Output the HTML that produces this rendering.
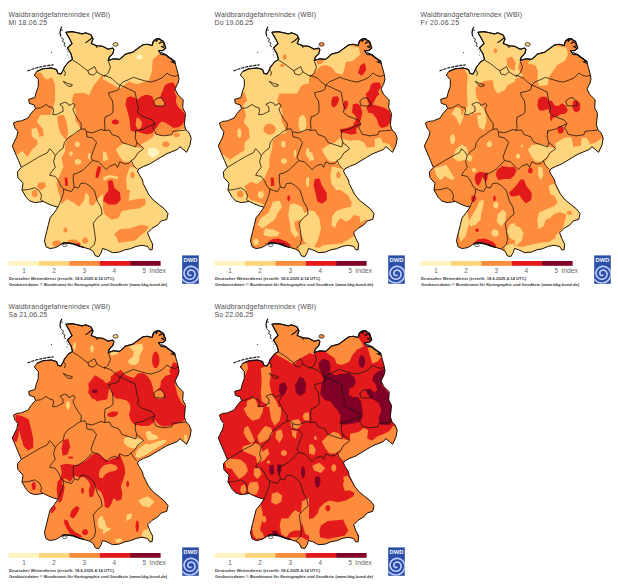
<!DOCTYPE html>
<html><head><meta charset="utf-8"><title>WBI</title>
<style>
html,body{margin:0;padding:0;background:#fff;}
body{width:618px;height:584px;overflow:hidden;position:relative;font-family:"Liberation Sans",sans-serif;}
svg{position:absolute;left:0;top:0;}
text{font-family:"Liberation Sans",sans-serif;}
</style></head><body>
<svg width="618" height="584" viewBox="0 0 618 584">
<defs>
<clipPath id="ger"><polygon points="65.8,32.2 72.0,31.6 77.6,32.8 82.2,33.9 85.6,32.8 91.2,35.0 93.0,39.0 91.2,43.5 96.9,45.8 102.6,46.3 108.2,49.2 112.8,48.0 113.9,49.7 112.8,53.7 109.4,57.0 108.2,60.5 113.9,58.8 119.5,59.4 122.7,56.8 125.0,54.3 132.9,52.1 139.7,47.0 143.1,44.7 147.5,44.3 152.2,45.5 153.3,41.3 157.8,38.5 163.5,41.3 165.8,48.1 162.4,50.6 158.5,50.5 161.2,54.5 165.8,54.8 170.3,58.3 174.8,61.5 176.0,66.2 178.2,74.2 179.0,79.0 178.0,83.0 175.0,89.0 177.6,94.3 183.2,99.9 182.7,107.8 185.5,113.5 184.4,124.8 186.0,130.0 188.9,132.5 191.2,138.1 190.0,144.9 186.6,152.3 183.2,149.4 179.8,146.6 177.6,149.4 171.9,151.7 166.2,154.0 160.6,157.4 154.9,160.8 149.3,164.2 143.6,166.4 139.1,168.7 137.4,171.0 139.1,174.4 142.5,180.0 143.2,183.6 148.4,194.0 153.2,200.0 158.9,204.5 164.6,209.1 168.0,213.6 166.8,219.3 161.2,221.0 157.8,224.9 152.1,228.3 147.6,232.8 149.8,238.5 152.7,244.2 152.1,249.8 149.8,249.8 147.6,246.4 141.9,245.3 136.2,246.4 130.6,248.7 124.9,249.8 119.3,252.1 112.5,252.7 106.8,249.8 102.5,248.5 101.2,252.6 98.9,256.5 95.5,256.0 93.2,251.4 89.8,249.2 84.2,247.5 78.5,245.8 72.8,243.5 67.2,242.9 63.8,242.4 61.5,244.1 55.9,247.5 50.2,248.6 46.2,246.9 44.5,241.2 45.0,238.2 46.7,231.4 48.4,224.6 50.1,217.8 54.6,212.2 58.0,207.1 53.5,206.0 47.8,203.7 43.3,201.4 39.9,202.0 34.8,202.6 29.7,200.9 26.3,197.5 22.0,190.0 23.0,183.2 17.9,177.6 17.4,171.9 21.3,167.4 18.5,160.6 15.1,152.7 12.3,145.9 16.8,136.8 17.9,131.5 15.1,128.2 13.4,123.1 16.8,121.4 21.3,120.9 28.1,118.0 31.0,113.5 35.5,108.4 34.3,105.0 29.3,103.3 28.7,99.3 34.9,97.6 36.0,93.1 38.3,86.3 38.3,79.5 34.3,75.0 36.8,71.4 42.8,68.8 51.4,68.0 56.5,69.5 58.0,73.5 61.0,74.0 63.0,70.5 64.5,67.0 68.5,62.0 72.5,59.4 70.9,53.7 67.5,48.0 72.0,43.5 69.7,39.0"/></clipPath>

<clipPath id="tA"><rect x="0" y="0" width="103" height="115"/></clipPath>
<clipPath id="tB"><rect x="103" y="0" width="103" height="115"/></clipPath>
<clipPath id="tC"><rect x="0" y="115" width="103" height="75"/></clipPath>
<clipPath id="tD"><rect x="103" y="115" width="103" height="75"/></clipPath>
<clipPath id="tE"><rect x="0" y="190" width="103" height="102"/></clipPath>
<clipPath id="tF"><rect x="103" y="190" width="103" height="102"/></clipPath>
<clipPath id="tG"><rect x="0" y="0" width="206" height="292"/></clipPath>
<g id="ov">
<polygon points="65.8,32.2 72.0,31.6 77.6,32.8 82.2,33.9 85.6,32.8 91.2,35.0 93.0,39.0 91.2,43.5 96.9,45.8 102.6,46.3 108.2,49.2 112.8,48.0 113.9,49.7 112.8,53.7 109.4,57.0 108.2,60.5 113.9,58.8 119.5,59.4 122.7,56.8 125.0,54.3 132.9,52.1 139.7,47.0 143.1,44.7 147.5,44.3 152.2,45.5 153.3,41.3 157.8,38.5 163.5,41.3 165.8,48.1 162.4,50.6 158.5,50.5 161.2,54.5 165.8,54.8 170.3,58.3 174.8,61.5 176.0,66.2 178.2,74.2 179.0,79.0 178.0,83.0 175.0,89.0 177.6,94.3 183.2,99.9 182.7,107.8 185.5,113.5 184.4,124.8 186.0,130.0 188.9,132.5 191.2,138.1 190.0,144.9 186.6,152.3 183.2,149.4 179.8,146.6 177.6,149.4 171.9,151.7 166.2,154.0 160.6,157.4 154.9,160.8 149.3,164.2 143.6,166.4 139.1,168.7 137.4,171.0 139.1,174.4 142.5,180.0 143.2,183.6 148.4,194.0 153.2,200.0 158.9,204.5 164.6,209.1 168.0,213.6 166.8,219.3 161.2,221.0 157.8,224.9 152.1,228.3 147.6,232.8 149.8,238.5 152.7,244.2 152.1,249.8 149.8,249.8 147.6,246.4 141.9,245.3 136.2,246.4 130.6,248.7 124.9,249.8 119.3,252.1 112.5,252.7 106.8,249.8 102.5,248.5 101.2,252.6 98.9,256.5 95.5,256.0 93.2,251.4 89.8,249.2 84.2,247.5 78.5,245.8 72.8,243.5 67.2,242.9 63.8,242.4 61.5,244.1 55.9,247.5 50.2,248.6 46.2,246.9 44.5,241.2 45.0,238.2 46.7,231.4 48.4,224.6 50.1,217.8 54.6,212.2 58.0,207.1 53.5,206.0 47.8,203.7 43.3,201.4 39.9,202.0 34.8,202.6 29.7,200.9 26.3,197.5 22.0,190.0 23.0,183.2 17.9,177.6 17.4,171.9 21.3,167.4 18.5,160.6 15.1,152.7 12.3,145.9 16.8,136.8 17.9,131.5 15.1,128.2 13.4,123.1 16.8,121.4 21.3,120.9 28.1,118.0 31.0,113.5 35.5,108.4 34.3,105.0 29.3,103.3 28.7,99.3 34.9,97.6 36.0,93.1 38.3,86.3 38.3,79.5 34.3,75.0 36.8,71.4 42.8,68.8 51.4,68.0 56.5,69.5 58.0,73.5 61.0,74.0 63.0,70.5 64.5,67.0 68.5,62.0 72.5,59.4 70.9,53.7 67.5,48.0 72.0,43.5 69.7,39.0" fill="none" stroke="#1a1208" stroke-width="1.0" stroke-linejoin="round"/>
<polyline points="65.8,32.2 72.0,31.6 77.6,32.8 82.2,33.9 85.6,32.8 91.2,35.0 93.0,39.0 91.2,43.5 96.9,45.8 102.6,46.3 108.2,49.2 112.8,48.0 113.9,49.7 112.8,53.7 109.4,57.0 108.2,60.5 113.9,58.8 119.5,59.4 122.7,56.8 125.0,54.3 132.9,52.1 139.7,47.0 143.1,44.7 147.5,44.3 152.2,45.5 153.3,41.3 157.8,38.5 163.5,41.3 165.8,48.1 162.4,50.6 158.5,50.5 161.2,54.5 165.8,54.8 170.3,58.3 174.8,61.5" fill="none" stroke="#111" stroke-width="1.1" stroke-linejoin="round"/>
<polyline points="36.8,71.4 42.8,68.8 51.4,68.0 56.5,69.5 58.0,73.5 61.0,74.0 63.0,70.5 64.5,67.0 68.5,62.0 72.5,59.4 70.9,53.7 67.5,48.0 72.0,43.5 69.7,39.0 65.8,32.2" fill="none" stroke="#111" stroke-width="1.1" stroke-linejoin="round"/>
<polyline points="72.5,60.0 78.8,63.9 84.4,68.4 87.8,70.7" fill="none" stroke="#1f150c" stroke-width="0.8" stroke-linejoin="round"/>
<polyline points="87.8,70.7 94.6,66.7 96.9,71.8 93.5,75.2 89.0,74.0 87.8,70.7" fill="none" stroke="#1f150c" stroke-width="0.8" stroke-linejoin="round"/>
<polyline points="96.9,71.8 101.0,74.5 104.8,76.4" fill="none" stroke="#1f150c" stroke-width="0.8" stroke-linejoin="round"/>
<polyline points="108.2,60.5 110.5,67.3 108.2,73.0 104.8,76.4 104.0,75.0" fill="none" stroke="#1f150c" stroke-width="0.8" stroke-linejoin="round"/>
<polyline points="104.0,75.0 111.9,78.4 116.4,82.9 119.8,85.2" fill="none" stroke="#1f150c" stroke-width="0.8" stroke-linejoin="round"/>
<polyline points="119.8,85.2 123.2,81.8 128.9,79.5 133.4,77.3 137.5,78.7 145.4,81.0 151.0,82.1 157.8,79.8 162.4,77.6 166.9,73.0 170.3,75.3 174.8,76.4 178.0,75.3" fill="none" stroke="#1f150c" stroke-width="0.8" stroke-linejoin="round"/>
<polyline points="119.8,85.2 118.7,89.7 114.2,91.4 108.5,92.6 109.6,96.5 112.5,101.0 113.0,106.7 113.0,112.4 109.6,115.2 105.1,116.9 104.5,122.6 105.1,128.2 104.0,130.5" fill="none" stroke="#1f150c" stroke-width="0.8" stroke-linejoin="round"/>
<polyline points="119.8,85.2 124.4,86.9 130.0,89.7 135.1,92.0 136.2,97.7 136.8,102.2 138.5,107.8 137.4,112.4 141.3,115.8 147.0,118.0 152.6,120.3 154.9,123.7" fill="none" stroke="#1f150c" stroke-width="0.8" stroke-linejoin="round"/>
<polyline points="153.8,101.0 157.2,98.2 161.1,97.7 164.5,102.2 165.1,105.6 160.6,106.1 154.9,105.6 153.8,101.0" fill="none" stroke="#1f150c" stroke-width="0.8" stroke-linejoin="round"/>
<polyline points="154.9,123.7 152.6,127.9 154.9,131.3 156.0,134.2 164.0,135.9 171.9,134.7 173.0,131.3 178.7,130.8 185.5,130.2" fill="none" stroke="#1f150c" stroke-width="0.8" stroke-linejoin="round"/>
<polyline points="154.9,123.7 147.0,127.1 143.6,129.1 135.7,130.8" fill="none" stroke="#1f150c" stroke-width="0.8" stroke-linejoin="round"/>
<polyline points="135.7,130.8 135.1,137.0 136.8,142.7 141.3,146.0 143.6,148.9 137.9,152.8 134.5,158.5 131.2,160.6 133.4,165.3 136.8,169.0" fill="none" stroke="#1f150c" stroke-width="0.8" stroke-linejoin="round"/>
<polyline points="104.0,130.5 109.6,130.0 111.9,134.5 118.7,136.8 122.1,142.5 128.9,144.7 135.7,147.0 136.8,142.7" fill="none" stroke="#1f150c" stroke-width="0.8" stroke-linejoin="round"/>
<polyline points="135.7,133.4 135.7,130.8" fill="none" stroke="#1f150c" stroke-width="0.8" stroke-linejoin="round"/>
<polyline points="35.5,108.4 40.6,107.8 46.2,104.4 49.0,106.7 53.0,107.8 53.6,111.2 52.5,114.6 56.4,114.6 59.8,112.9 63.2,111.2 62.7,106.7 59.8,104.4 64.4,102.2 67.8,103.3 68.9,105.6 73.4,103.3 75.1,105.6 72.9,109.0 74.6,113.5 77.9,119.2 81.3,123.7 80.8,129.4" fill="none" stroke="#1f150c" stroke-width="0.8" stroke-linejoin="round"/>
<polyline points="80.8,129.4 85.0,128.8 86.4,131.6 92.0,133.0 98.3,130.5 101.7,129.4 104.0,130.5" fill="none" stroke="#1f150c" stroke-width="0.8" stroke-linejoin="round"/>
<polyline points="63.2,81.2 67.8,83.5 72.3,84.6 71.7,86.3 68.3,86.3 65.5,84.1 63.2,81.2" fill="none" stroke="#1f150c" stroke-width="0.8" stroke-linejoin="round"/>
<polyline points="64.0,70.0 65.5,73.0 64.5,76.0" fill="none" stroke="#1f150c" stroke-width="0.8" stroke-linejoin="round"/>
<polyline points="80.8,129.4 77.0,131.5 73.4,134.5 67.8,137.9 64.4,142.5 63.2,148.1 58.7,151.5 55.3,155.5" fill="none" stroke="#1f150c" stroke-width="0.8" stroke-linejoin="round"/>
<polyline points="55.3,155.5 52.5,151.5 49.6,148.7 47.4,152.7 40.6,156.0 32.7,160.6 27.0,164.0 21.3,167.4" fill="none" stroke="#1f150c" stroke-width="0.8" stroke-linejoin="round"/>
<polyline points="55.3,155.5 53.6,161.7 55.3,167.4 51.9,171.3 49.6,175.3 55.3,176.4 58.7,181.0 61.0,186.6 63.6,188.7" fill="none" stroke="#1f150c" stroke-width="0.8" stroke-linejoin="round"/>
<polyline points="86.4,131.6 87.0,136.8 92.7,137.9 96.6,142.5 93.8,149.3 91.0,157.2 92.7,160.6" fill="none" stroke="#1f150c" stroke-width="0.8" stroke-linejoin="round"/>
<polyline points="92.7,160.6 88.1,165.1 83.6,169.6 77.9,173.0 73.4,174.2 73.2,180.2 74.3,187.0" fill="none" stroke="#1f150c" stroke-width="0.8" stroke-linejoin="round"/>
<polyline points="74.3,187.0 71.5,191.5 67.0,190.4 63.6,188.7" fill="none" stroke="#1f150c" stroke-width="0.8" stroke-linejoin="round"/>
<polyline points="63.6,188.7 63.6,192.7 61.3,199.4 58.0,207.1" fill="none" stroke="#1f150c" stroke-width="0.8" stroke-linejoin="round"/>
<polyline points="21.8,190.1 28.6,189.5 34.8,187.8 39.3,190.7 41.6,195.8 40.5,199.7 43.3,201.4" fill="none" stroke="#1f150c" stroke-width="0.8" stroke-linejoin="round"/>
<polyline points="92.7,160.6 98.3,161.7 102.8,166.2 106.2,169.6 109.6,166.2 115.3,164.0 117.6,167.4 119.8,161.7 124.4,164.0 128.9,163.4 131.2,160.6" fill="none" stroke="#1f150c" stroke-width="0.8" stroke-linejoin="round"/>
<polyline points="74.3,187.0 78.3,188.1 80.6,183.6 85.1,183.0 89.6,185.9 94.2,190.4 95.9,196.0 97.6,201.7 101.0,207.4 102.1,214.2 97.6,217.6 93.2,223.1 94.4,231.0 95.5,239.0 94.4,244.6 89.8,248.6" fill="none" stroke="#1f150c" stroke-width="0.8" stroke-linejoin="round"/>
<polyline points="62,26.8 60.5,29.5 60,33 60.8,36.5" fill="none" stroke="#111" stroke-width="1.2"/>
<polyline points="60.5,29.8 63,30.3" fill="none" stroke="#111" stroke-width="0.8"/>
<polyline points="61,37.5 63.5,39 62.5,41.5 65,43 64,45.5 66,47" fill="none" stroke="#222" stroke-width="0.9"/>
<polyline points="66,49 68,52 67,55 69,57.5" fill="none" stroke="#333" stroke-width="0.6" stroke-dasharray="1.5 1.5"/>
<polyline points="27.5,71 31,69.6 36,68 42,66.6 47.5,65.6 53.5,64.8" fill="none" stroke="#111" stroke-width="1.2" stroke-dasharray="3.2 0.9"/>
<circle cx="51.5" cy="52.5" r="0.6" fill="#333"/>
<ellipse cx="115.6" cy="44.4" rx="2.6" ry="1.8" fill="none" stroke="#222" stroke-width="0.8"/>
<polyline points="85.4,42.9 88.5,40.8 92.2,37.8" fill="none" stroke="#111" stroke-width="1.1"/>
<polyline points="94.8,44.6 96,46 97.3,48" fill="none" stroke="#111" stroke-width="1.0"/>
<polyline points="61.5,244.3 64,242.8 67.2,243 72.8,243.7 78.5,245.9 84.2,247.6" fill="none" stroke="#111" stroke-width="1.5"/>
<ellipse cx="64.8" cy="245.3" rx="2.3" ry="1.3" fill="#fff" stroke="#111" stroke-width="0.6"/>
<polyline points="152.5,44 154,40 157,38.5 156,42 159.5,38 161.5,41 159,43.5 163,42 164.5,46 161,46.5 165.5,48.5 163,50.8" fill="none" stroke="#111" stroke-width="1.0"/>
<polyline points="161,52.5 165.5,54.5 168,57 171.5,59 174.5,61.5 172,62 175.5,63.5" fill="none" stroke="#111" stroke-width="1.3"/>
<rect x="8.5" y="261" width="30.5" height="4.8" fill="#fff3c0"/>
<text x="24.0" y="272.8" font-size="6.4" fill="#666" text-anchor="middle">1</text>
<rect x="38.9" y="261" width="30.5" height="4.8" fill="#fed57c"/>
<text x="54.1" y="272.8" font-size="6.4" fill="#666" text-anchor="middle">2</text>
<rect x="69.3" y="261" width="30.5" height="4.8" fill="#fd8d3c"/>
<text x="84.2" y="272.8" font-size="6.4" fill="#666" text-anchor="middle">3</text>
<rect x="99.7" y="261" width="30.5" height="4.8" fill="#e31a1c"/>
<text x="114.3" y="272.8" font-size="6.4" fill="#666" text-anchor="middle">4</text>
<rect x="130.1" y="261" width="30.5" height="4.8" fill="#800026"/>
<text x="144.4" y="272.8" font-size="6.4" fill="#666" text-anchor="middle">5</text>
<text x="149.3" y="272.8" font-size="6.4" fill="#666" textLength="16.5" lengthAdjust="spacingAndGlyphs">Index</text>
<text x="9.1" y="279.5" font-size="4.4" font-weight="bold" fill="#3a3a3a" textLength="105" lengthAdjust="spacingAndGlyphs">Deutscher Wetterdienst (erstellt: 18.6.2025 4:14 UTC)</text>
<text x="9.1" y="285.5" font-size="4.4" font-weight="bold" fill="#3a3a3a" textLength="158" lengthAdjust="spacingAndGlyphs">Geobasisdaten © Bundesamt für Kartographie und Geodäsie (www.bkg.bund.de)</text>
<text x="8.6" y="17" font-size="6.9" fill="#4d4d4d" textLength="101.5" lengthAdjust="spacing">Waldbrandgefahrenindex (WBI)</text>
<g transform="translate(182.2,255.4)"><clipPath id="lg"><rect x="0" y="0" width="16.6" height="28.4"/></clipPath><rect x="0" y="0" width="16.6" height="28.4" fill="#2b4ea6"/><text x="8.3" y="6.6" font-size="6.2" font-weight="bold" fill="#f4f6ff" text-anchor="middle" textLength="14" lengthAdjust="spacingAndGlyphs">DWD</text><path d="M8.76,19.73 L8.55,19.87 L8.31,19.98 L8.04,20.06 L7.75,20.09 L7.44,20.06 L7.13,19.99 L6.82,19.85 L6.53,19.67 L6.26,19.42 L6.02,19.13 L5.83,18.79 L5.70,18.41 L5.62,18.00 L5.61,17.57 L5.67,17.13 L5.80,16.69 L6.01,16.26 L6.29,15.87 L6.63,15.51 L7.05,15.20 L7.52,14.95 L8.03,14.78 L8.58,14.69 L9.15,14.68 L9.73,14.77 L10.30,14.95 L10.84,15.23 L11.35,15.59 L11.81,16.04 L12.20,16.56 L12.51,17.16 L12.72,17.80 L12.84,18.49 L12.85,19.20 L12.74,19.92 L12.52,20.62 L12.19,21.30 L11.75,21.92 L11.21,22.49 L10.57,22.96 L9.86,23.34 L9.08,23.62 L8.26,23.77 L7.41,23.79 L6.55,23.67 L5.71,23.43 L4.90,23.04 L4.15,22.53 L3.48,21.91 L2.90,21.17 L2.44,20.34 L2.11,19.44 L1.91,18.48 L1.87,17.49 L1.98,16.49 L2.25,15.50 L2.67,14.56 L3.24,13.68 L3.95,12.89 L4.78,12.21 L5.72,11.66 L6.75,11.25 L7.84,11.00 L8.97,10.93 L10.11,11.03 L11.24,11.31 L12.32,11.76 L13.34,12.38 L14.25,13.16 L15.05,14.08 L15.70,15.13 L16.18,16.28 L16.49,17.50 L16.61,18.76 L16.53,20.05 L16.25,21.32 L15.78,22.55 L15.11,23.70 L14.27,24.75 L13.26,25.66 L12.12,26.42 L10.86,26.99 L9.51,27.37 L8.11,27.54 L6.68,27.50 L5.26,27.23 L3.89,26.74 L2.59,26.04 L1.41,25.14 L0.37,24.06" fill="none" stroke="#c3d0ff" stroke-width="1.6" stroke-linecap="round" clip-path="url(#lg)"/></g>
</g></defs>
<g transform="translate(0,0)">
<g clip-path="url(#ger)"><rect x="0" y="0" width="206" height="292" fill="#fed57c"/>
<g clip-path="url(#tA)">
<polygon points="35.1,72.2 41.1,72.7 45.9,79.6 52.2,77.4 55.1,85.1 55.1,100.5 51.4,112.5 48.8,120.0 17.1,120.0 17.1,100.5 25.7,88.5 25.7,71.4" fill="#fd8d3c"/>
<polygon points="106.2,69.7 93.3,85.9 89.0,95.3 83.9,92.8 73.6,93.6 71.9,100.5 75.3,109.0 77.9,122.7 106.2,122.7" fill="#fd8d3c"/>
</g>
<g clip-path="url(#tB)">
<polygon points="101.3,78.2 113.3,85.1 120.1,88.5 128.7,81.6 137.2,84.2 149.2,79.9 151.8,71.4 152.7,59.4 159.5,53.4 168.9,56.8 174.9,62.8 181.8,71.4 192.0,122.7 101.3,122.7" fill="#fd8d3c"/>
</g>
<g clip-path="url(#tC)">
<polygon points="30.0,115.1 41.1,113.4 36.8,122.0 42.8,128.8 43.7,135.7 36.8,137.4 37.7,144.2 31.7,150.2 27.4,157.1 22.3,151.1 17.1,154.5 5.1,146.0 5.1,132.3 8.6,122.0" fill="#fd8d3c"/>
<polygon points="31.7,128.8 36.8,128.0 39.4,135.7 36.0,140.0 31.7,135.7" fill="#fed57c"/>
<polygon points="57.4,116.0 63.7,114.3 67.1,123.7 68.2,134.0 65.9,140.0 60.3,133.1 57.9,124.6" fill="#fd8d3c"/>
<polygon points="75.3,106.6 106.2,106.6 106.2,212.7 65.1,212.7 63.4,195.6 58.2,190.5 56.5,183.6 59.9,175.1 63.4,166.5 61.6,157.9 65.1,151.1 65.1,144.2 67.6,137.4 75.3,134.0 80.5,128.8 75.3,120.3" fill="#fd8d3c"/>
<polygon points="79.8,144.2 79.3,145.9 78.1,146.9 76.7,146.9 75.5,145.9 75.0,144.2 75.5,142.6 76.7,141.6 78.1,141.6 79.3,142.6" fill="#fed57c"/>
<polygon points="72.8,153.7 72.4,155.2 71.6,156.1 70.5,156.1 69.7,155.2 69.3,153.7 69.7,152.2 70.5,151.2 71.6,151.2 72.4,152.2" fill="#fed57c"/>
<polygon points="81.3,161.7 80.7,163.4 79.0,164.5 76.9,164.5 75.1,163.4 74.5,161.7 75.1,160.0 76.9,158.9 79.0,158.9 80.7,160.0" fill="#fed57c"/>
<polygon points="90.8,156.2 90.5,158.2 89.8,159.5 89.0,159.5 88.3,158.2 88.0,156.2 88.3,154.2 89.0,153.0 89.8,153.0 90.5,154.2" fill="#fed57c"/>
<polygon points="73.6,193.9 83.9,190.5 93.3,193.9 93.3,212.7 68.5,212.7 65.1,202.5" fill="#fed57c"/>
<polygon points="64.7,177.6 67.1,177.6 68.2,185.3 65.1,186.2" fill="#e31a1c"/>
<polygon points="31.7,190.5 36.8,189.6 39.4,193.9 34.2,199.0 30.8,195.6" fill="#fd8d3c"/>
<polygon points="38.5,182.8 44.5,181.9 46.2,186.2 41.1,190.5 36.8,187.1" fill="#fd8d3c"/>
</g>
<g clip-path="url(#tD)">
<polygon points="101.3,108.3 209.2,108.3 209.2,212.7 101.3,212.7" fill="#fd8d3c"/>
<polygon points="119.1,122.0 118.4,123.5 116.5,124.4 114.2,124.4 112.3,123.5 111.6,122.0 112.3,120.5 114.2,119.5 116.5,119.5 118.4,120.5" fill="#e31a1c"/>
<polygon points="154.4,134.0 159.5,135.7 168.1,135.7 174.9,132.3 183.5,128.8 192.0,130.5 195.5,140.8 188.6,154.5 182.6,150.2 176.6,154.5 168.1,157.9 159.5,161.4 152.7,166.5 144.1,168.2 136.4,168.2 130.4,163.1 135.5,156.2 143.2,148.5 139.8,145.1 145.8,141.7 152.7,137.4" fill="#fed57c"/>
<polygon points="169.6,144.2 168.9,146.0 167.0,147.0 164.7,147.0 162.8,146.0 162.1,144.2 162.8,142.5 164.7,141.5 167.0,141.5 168.9,142.5" fill="#fd8d3c"/>
<polygon points="180.1,134.8 179.4,136.2 177.7,137.1 175.6,137.1 173.9,136.2 173.2,134.8 173.9,133.4 175.6,132.5 177.7,132.5 179.4,133.4" fill="#fd8d3c"/>
<polygon points="147.9,149.0 154.4,147.3 159.5,150.8 158.1,154.9 152.7,157.9 148.4,154.9" fill="#fff3c0"/>
<polygon points="115.8,149.4 121.8,144.2 128.7,143.4 135.5,146.8 143.2,148.5 135.5,156.2 130.4,161.4 123.5,161.4 119.3,156.2" fill="#fed57c"/>
<polygon points="102.1,151.1 106.4,152.8 108.1,159.7 102.1,161.4" fill="#fed57c"/>
<polygon points="130.4,166.5 136.4,168.2 144.1,175.1 147.5,183.6 152.7,193.9 161.2,204.2 167.2,212.7 128.7,212.7 130.4,200.8 125.3,195.6 127.0,188.8 126.1,178.5 128.7,169.9" fill="#fed57c"/>
<polygon points="134.7,175.1 134.3,177.1 133.1,178.3 131.8,178.3 130.7,177.1 130.2,175.1 130.7,173.1 131.8,171.8 133.1,171.8 134.3,173.1" fill="#fd8d3c"/>
<polygon points="103.0,177.6 109.8,175.1 118.4,176.8 117.6,179.3 109.8,177.6 103.9,181.1" fill="#fed57c"/>
</g>
<g clip-path="url(#tE)">
<polygon points="56.5,168.3 106.2,168.3 106.2,214.5 56.5,214.5" fill="#fd8d3c"/>
<polygon points="-1.7,168.3 56.5,168.3 56.5,187.1 59.9,195.7 61.6,204.2 66.8,199.1 73.6,202.5 78.8,206.8 83.9,200.8 85.6,192.3 89.0,195.7 89.0,204.2 93.3,206.0 97.6,199.1 106.2,190.5 106.2,272.7 -1.7,272.7" fill="#fed57c"/>
<polygon points="65.6,176.8 68.0,176.8 68.8,186.3 65.9,186.3" fill="#e31a1c"/>
<polygon points="37.8,193.5 37.3,195.7 35.7,197.0 33.8,197.0 32.3,195.7 31.7,193.5 32.3,191.2 33.8,189.9 35.7,189.9 37.3,191.2" fill="#fd8d3c"/>
<polygon points="46.1,185.4 45.3,187.4 43.5,188.7 41.1,188.7 39.2,187.4 38.5,185.4 39.2,183.4 41.1,182.2 43.5,182.2 45.3,183.4" fill="#fd8d3c"/>
<polygon points="61.5,243.6 60.6,245.6 58.3,246.9 55.4,246.9 53.1,245.6 52.2,243.6 53.1,241.6 55.4,240.4 58.3,240.4 60.6,241.6" fill="#fd8d3c"/>
<polygon points="67.5,229.9 67.1,231.4 66.0,232.4 64.8,232.4 63.7,231.4 63.4,229.9 63.7,228.4 64.8,227.5 66.0,227.5 67.1,228.4" fill="#fd8d3c"/>
<polygon points="88.2,240.5 87.6,242.4 86.1,243.5 84.2,243.5 82.6,242.4 82.0,240.5 82.6,238.7 84.2,237.6 86.1,237.6 87.6,238.7" fill="#fd8d3c"/>
<polygon points="67.6,240.2 75.3,239.3 80.5,242.8 80.5,246.2 73.6,245.3 67.6,243.6" fill="#fd8d3c"/>
<polygon points="80.5,244.5 80.0,245.3 78.7,245.8 77.1,245.8 75.8,245.3 75.3,244.5 75.8,243.7 77.1,243.2 78.7,243.2 80.0,243.7" fill="#e31a1c"/>
</g>
<g clip-path="url(#tF)">
<polygon points="101.3,168.3 209.2,168.3 209.2,272.7 101.3,272.7" fill="#fed57c"/>
<polygon points="101.3,168.3 125.3,168.3 126.1,180.3 130.4,187.1 128.7,200.8 137.2,199.1 145.0,198.3 145.8,204.2 139.0,208.5 130.4,209.4 121.8,211.1 118.4,217.9 111.6,219.7 104.7,214.5 101.3,204.2" fill="#fd8d3c"/>
<polygon points="114.1,234.2 120.1,229.1 130.4,228.2 140.7,224.8 149.2,226.5 145.8,231.6 139.8,235.9 135.5,240.2 125.3,241.9 118.4,242.8 116.7,237.6" fill="#fd8d3c"/>
<polygon points="134.7,173.4 134.3,175.4 133.1,176.7 131.8,176.7 130.7,175.4 130.2,173.4 130.7,171.4 131.8,170.2 133.1,170.2 134.3,171.4" fill="#fd8d3c"/>
</g>
<g clip-path="url(#tG)">
<polygon points="126.7,98.1 130.5,96.2 135.7,98.1 137.7,99.4 140.9,96.8 144.8,94.9 148.7,94.9 152.5,96.8 153.8,100.7 157.7,98.1 160.3,96.8 162.2,91.7 164.8,85.2 168.1,83.2 173.3,82.6 175.8,86.5 174.5,91.7 176.5,96.8 175.8,102.0 178.4,107.2 182.3,110.4 185.6,115.0 184.9,120.1 182.3,124.7 178.4,127.2 173.3,127.9 169.4,125.3 165.5,122.7 161.6,121.4 159.0,124.0 156.4,127.9 153.8,130.5 152.5,133.1 147.4,134.4 140.9,133.1 136.4,131.1 134.4,131.8 130.5,130.5 129.9,124.0 129.2,117.5 127.3,111.1 125.4,104.6" fill="#e31a1c"/>
<polygon points="153.8,100.7 157.7,98.1 161.6,98.1 164.8,102.7 164.2,105.9 159.0,105.9 154.5,105.2" fill="#fd8d3c"/>
<polygon points="136.4,117.5 139.6,118.8 142.2,122.7 140.9,127.9 137.7,129.8 135.7,125.3" fill="#fd8d3c"/>
<polygon points="142.7,56.9 142.1,58.4 140.4,59.4 138.4,59.4 136.7,58.4 136.1,56.9 136.7,55.4 138.4,54.4 140.4,54.4 142.1,55.4" fill="#fff3c0"/>
<polygon points="107.7,181.1 112.4,180.1 114.3,187.7 119.9,192.4 120.8,199.9 116.1,204.6 108.6,204.6 103.0,200.8 104.8,195.2 108.6,190.5" fill="#e31a1c"/>
<polygon points="97.9,166.0 101.1,166.9 100.1,172.6 97.9,178.2 95.4,177.3 96.4,170.7" fill="#e31a1c"/>
</g>
</g>
<ellipse cx="115.6" cy="44.4" rx="2.6" ry="1.8" fill="#fed57c"/>
<use href="#ov"/>
<text x="8.6" y="24.7" font-size="6.9" fill="#4d4d4d" textLength="38.5" lengthAdjust="spacing">Mi 18.06.25</text>
</g>
<g transform="translate(206,0)">
<g clip-path="url(#ger)"><rect x="0" y="0" width="206" height="292" fill="#fed57c"/>
<g clip-path="url(#tA)">
<polygon points="106.2,82.5 95.9,85.1 90.8,93.6 83.9,93.6 73.6,93.6 71.1,100.5 75.3,109.0 78.8,122.7 106.2,122.7" fill="#fd8d3c"/>
<polygon points="25.7,98.8 38.5,91.9 41.1,100.5 36.8,105.6 39.4,112.5 39.4,122.7 25.7,122.7" fill="#fd8d3c"/>
<polygon points="80.8,57.2 80.4,58.8 79.4,59.8 78.1,59.8 77.1,58.8 76.7,57.2 77.1,55.5 78.1,54.6 79.4,54.6 80.4,55.5" fill="#fd8d3c"/>
<polygon points="78.4,65.4 78.0,66.4 76.9,67.0 75.5,67.0 74.4,66.4 74.0,65.4 74.4,64.4 75.5,63.7 76.9,63.7 78.0,64.4" fill="#fd8d3c"/>
</g>
<g clip-path="url(#tB)">
<polygon points="101.3,18.3 209.2,18.3 209.2,122.7 101.3,122.7" fill="#fd8d3c"/>
<polygon points="101.3,45.7 111.6,45.7 110.7,50.0 115.0,52.5 111.6,59.4 110.7,64.5 115.8,63.7 120.1,58.5 125.3,52.5 133.8,50.0 142.4,45.7 152.7,47.4 154.4,54.2 146.7,61.1 139.8,62.0 138.1,69.7 136.4,74.8 130.4,73.1 125.3,67.1 120.1,64.9 114.1,66.2 108.1,73.1 101.3,79.1" fill="#fed57c"/>
<polygon points="154.4,65.4 158.7,62.8 160.4,69.7 156.1,75.7 151.8,73.1" fill="#e31a1c"/>
</g>
<g clip-path="url(#tC)">
<polygon points="29.1,113.4 41.1,112.6 37.7,122.0 42.8,128.8 43.7,137.4 38.5,142.5 38.5,150.2 29.1,156.2 24.0,159.7 17.1,154.5 5.1,146.0 5.1,132.3 8.6,122.0" fill="#fd8d3c"/>
<polygon points="35.4,133.1 35.1,135.9 34.0,137.7 32.8,137.7 31.7,135.9 31.3,133.1 31.7,130.3 32.8,128.6 34.0,128.6 35.1,130.3" fill="#fed57c"/>
<polygon points="69.9,129.2 68.7,132.5 65.6,134.6 61.8,134.6 58.7,132.5 57.5,129.2 58.7,125.9 61.8,123.8 65.6,123.8 68.7,125.9" fill="#fd8d3c"/>
<polygon points="75.3,106.6 106.2,106.6 106.2,212.7 59.9,212.7 59.1,202.5 56.5,195.6 53.1,190.5 56.5,181.9 59.1,176.8 63.4,166.5 63.4,157.9 65.9,149.4 66.8,140.8 71.9,135.7 80.5,132.3 75.3,120.3" fill="#fd8d3c"/>
<polygon points="38.5,186.2 44.5,181.9 51.4,184.0 57.4,178.5 59.9,185.3 58.2,195.6 51.4,192.2 44.5,190.5 40.2,190.5" fill="#fd8d3c"/>
<polygon points="37.7,193.9 37.0,196.1 35.3,197.5 33.2,197.5 31.5,196.1 30.8,193.9 31.5,191.7 33.2,190.3 35.3,190.3 37.0,191.7" fill="#fd8d3c"/>
<polygon points="79.6,144.2 79.2,146.3 78.1,147.5 76.7,147.5 75.6,146.3 75.2,144.2 75.6,142.2 76.7,141.0 78.1,141.0 79.2,142.2" fill="#fed57c"/>
<polygon points="81.0,161.0 80.4,162.7 78.9,163.8 77.0,163.8 75.4,162.7 74.8,161.0 75.4,159.3 77.0,158.3 78.9,158.3 80.4,159.3" fill="#fed57c"/>
<polygon points="90.4,153.7 90.1,155.9 89.5,157.2 88.6,157.2 87.9,155.9 87.7,153.7 87.9,151.5 88.6,150.1 89.5,150.1 90.1,151.5" fill="#fed57c"/>
<polygon points="100.5,123.4 99.7,128.4 97.7,131.5 95.1,131.5 93.1,128.4 92.3,123.4 93.1,118.3 95.1,115.2 97.7,115.2 99.7,118.3" fill="#fed57c"/>
<polygon points="105.8,152.8 105.2,155.8 103.7,157.7 101.8,157.7 100.2,155.8 99.7,152.8 100.2,149.8 101.8,147.9 103.7,147.9 105.2,149.8" fill="#fed57c"/>
<polygon points="105.8,181.9 105.2,184.9 103.7,186.8 101.8,186.8 100.2,184.9 99.7,181.9 100.2,178.9 101.8,177.0 103.7,177.0 105.2,178.9" fill="#fed57c"/>
<polygon points="66.8,202.5 73.6,199.0 75.3,205.9 71.9,212.7 66.8,212.7" fill="#fed57c"/>
<polygon points="64.7,177.6 67.6,177.6 68.5,185.3 65.1,186.2" fill="#e31a1c"/>
<polygon points="84.1,198.7 83.8,200.2 83.1,201.1 82.3,201.1 81.6,200.2 81.3,198.7 81.6,197.2 82.3,196.3 83.1,196.3 83.8,197.2" fill="#e31a1c"/>
</g>
<g clip-path="url(#tD)">
<polygon points="101.3,108.3 209.2,108.3 209.2,212.7 101.3,212.7" fill="#fd8d3c"/>
<polygon points="152.7,140.0 157.8,142.5 161.2,147.7 168.9,146.8 168.9,139.1 174.9,137.4 176.6,142.5 183.5,144.2 188.6,154.5 182.6,150.2 176.6,154.5 168.1,157.9 159.5,161.4 152.7,166.5 144.1,168.2 136.4,169.1 130.4,163.1 134.7,156.2 139.8,152.8 144.1,148.5 138.1,144.2 136.4,139.1 144.1,140.8" fill="#fed57c"/>
<polygon points="115.8,149.4 121.8,145.1 128.7,142.5 134.7,137.4 137.2,144.2 144.1,148.5 135.5,156.2 130.4,161.4 123.5,161.4 119.3,156.2" fill="#fed57c"/>
<polygon points="102.1,151.1 106.4,152.8 108.1,159.7 102.1,161.4" fill="#fed57c"/>
<polygon points="126.1,166.5 136.4,169.1 144.1,175.1 147.5,183.6 152.7,193.9 161.2,204.2 167.2,212.7 147.5,212.7 145.8,205.9 137.2,197.3 130.4,190.5 125.3,183.6 124.4,175.1" fill="#fed57c"/>
<polygon points="134.7,175.1 134.3,177.1 133.1,178.3 131.8,178.3 130.7,177.1 130.2,175.1 130.7,173.1 131.8,171.8 133.1,171.8 134.3,173.1" fill="#fd8d3c"/>
</g>
<g clip-path="url(#tE)">
<polygon points="56.5,168.3 106.2,168.3 106.2,272.7 42.8,272.7 42.8,226.5 51.4,212.8 59.1,206.0 59.1,195.7 56.5,187.1" fill="#fd8d3c"/>
<polygon points="38.5,185.4 44.5,182.0 51.4,183.7 56.5,188.8 59.1,195.7 59.1,205.1 51.4,201.7 44.5,200.0 41.1,195.7 40.2,190.5" fill="#fd8d3c"/>
<polygon points="57.9,194.8 57.3,197.0 55.7,198.4 53.8,198.4 52.3,197.0 51.7,194.8 52.3,192.6 53.8,191.2 55.7,191.2 57.3,192.6" fill="#fed57c"/>
<polygon points="37.7,194.0 37.0,196.2 35.3,197.6 33.2,197.6 31.5,196.2 30.8,194.0 31.5,191.8 33.2,190.4 35.3,190.4 37.0,191.8" fill="#fd8d3c"/>
<polygon points="66.8,201.7 73.6,200.8 76.2,206.8 71.9,212.8 68.5,219.7 61.6,224.8 56.5,228.2 51.4,224.8 54.8,217.9 62.5,212.8 65.1,206.8" fill="#fed57c"/>
<polygon points="59.1,228.2 68.5,229.9 73.6,232.5 71.9,235.9 63.4,236.8 57.4,235.1" fill="#fed57c"/>
<polygon points="83.9,204.2 89.0,203.4 95.9,206.8 98.5,212.8 95.0,219.7 88.2,221.4 89.0,228.2 93.3,235.1 89.0,237.6 84.8,231.6 83.9,223.1 82.2,214.5" fill="#fed57c"/>
<polygon points="95.9,213.7 106.2,210.2 106.2,247.1 98.5,241.9 93.3,229.9" fill="#fed57c"/>
<polygon points="52.9,241.9 52.4,243.9 50.9,245.2 49.1,245.2 47.6,243.9 47.1,241.9 47.6,239.9 49.1,238.7 50.9,238.7 52.4,239.9" fill="#fed57c"/>
<polygon points="59.1,245.0 65.9,239.3 72.8,238.5 81.3,241.9 85.6,246.2 75.3,247.4 67.6,245.7" fill="#e31a1c"/>
<polygon points="80.0,244.1 79.2,244.8 77.4,245.3 75.0,245.3 73.2,244.8 72.4,244.1 73.2,243.4 75.0,243.0 77.4,243.0 79.2,243.4" fill="#800026"/>
<polygon points="62.3,246.7 61.9,247.4 60.9,247.9 59.6,247.9 58.6,247.4 58.2,246.7 58.6,246.0 59.6,245.6 60.9,245.6 61.9,246.0" fill="#e31a1c"/>
<polygon points="65.1,177.7 68.5,177.7 69.3,186.3 65.9,186.3" fill="#e31a1c"/>
<polygon points="84.1,198.3 83.8,200.1 83.1,201.2 82.3,201.2 81.6,200.1 81.3,198.3 81.6,196.4 82.3,195.3 83.1,195.3 83.8,196.4" fill="#e31a1c"/>
</g>
<g clip-path="url(#tF)">
<polygon points="101.3,168.3 209.2,168.3 209.2,272.7 101.3,272.7" fill="#fd8d3c"/>
<polygon points="126.1,168.3 125.3,180.3 128.7,187.1 135.5,190.5 142.4,195.7 145.8,202.5 145.0,206.8 137.2,208.5 130.4,211.1 126.1,216.2 125.3,224.8 128.7,228.2 131.3,221.4 134.7,217.9 139.8,221.4 144.1,219.7 147.5,214.9 153.5,216.2 154.4,223.1 159.5,219.7 171.5,219.7 171.5,209.4 159.5,200.8 147.5,192.3 142.4,180.3 137.2,168.3" fill="#fed57c"/>
<polygon points="101.3,245.3 113.3,247.9 116.7,245.3 135.5,243.6 144.1,238.5 149.2,235.1 154.4,241.9 154.4,255.6 101.3,259.0" fill="#fed57c"/>
<polygon points="134.7,173.4 134.3,175.9 133.1,177.5 131.8,177.5 130.7,175.9 130.2,173.4 130.7,170.9 131.8,169.4 133.1,169.4 134.3,170.9" fill="#fd8d3c"/>
<polygon points="101.3,210.2 108.1,211.1 113.3,217.9 115.0,228.2 112.4,238.5 108.1,247.1 101.3,247.1" fill="#fed57c"/>
</g>
<g clip-path="url(#tG)">
<polygon points="126.7,96.8 131.8,96.2 133.1,99.4 131.2,104.6 127.9,107.8 125.4,105.2 125.4,100.7" fill="#e31a1c"/>
<polygon points="138.3,100.7 141.5,100.7 142.2,104.6 140.2,109.8 137.7,109.1 137.3,104.6" fill="#e31a1c"/>
<polygon points="146.7,104.6 151.2,103.3 154.5,105.9 156.4,112.4 155.1,118.8 153.6,122.7 153.8,124.7 151.9,127.2 150.0,129.2 150.6,133.7 144.8,134.4 138.3,133.1 134.4,131.8 133.8,129.2 140.9,127.9 146.7,126.0 148.9,121.4 150.6,118.2 148.9,115.0 146.1,112.4" fill="#e31a1c"/>
<polygon points="159.7,94.2 163.5,89.7 164.8,84.5 168.1,82.6 173.9,82.6 175.2,87.1 172.0,91.0 173.3,94.2 170.7,96.8 168.1,101.4 166.8,104.6 172.0,105.9 178.4,107.8 183.6,111.1 185.6,116.9 184.3,122.7 181.0,126.6 175.8,127.9 172.6,125.3 170.7,118.8 166.8,113.7 162.2,112.4 160.3,107.8 162.9,103.9 161.0,99.4" fill="#e31a1c"/>
<polygon points="154.5,101.4 157.7,99.2 160.3,100.7 161.9,104.6 159.0,105.6 154.9,104.9" fill="#fd8d3c"/>
<polygon points="108.6,179.2 113.3,178.2 116.1,185.8 120.8,193.3 120.8,199.9 116.1,203.7 111.4,201.8 109.5,193.3 107.7,185.8" fill="#e31a1c"/>
<polygon points="92.5,245.5 102.0,243.5 104.0,252.0 99.0,258.0 94.5,256.5" fill="#fed57c"/>
</g>
</g>
<ellipse cx="115.6" cy="44.4" rx="2.6" ry="1.8" fill="#fd8d3c"/>
<use href="#ov"/>
<text x="8.6" y="24.7" font-size="6.9" fill="#4d4d4d" textLength="38.5" lengthAdjust="spacing">Do 19.06.25</text>
</g>
<g transform="translate(412,0)">
<g clip-path="url(#ger)"><rect x="0" y="0" width="206" height="292" fill="#fed57c"/>
<g clip-path="url(#tA)">
<polygon points="25.7,69.7 42.8,68.8 51.4,67.9 55.7,74.8 54.8,88.5 55.7,105.6 51.4,112.5 49.7,122.7 17.1,122.7" fill="#fd8d3c"/>
<polygon points="43.7,107.3 48.8,109.0 49.7,115.9 47.9,122.7 39.4,122.7 40.2,112.5" fill="#fed57c"/>
<polygon points="106.2,79.9 95.9,85.1 92.5,90.2 85.6,93.6 82.2,88.5 80.5,79.9 73.6,80.8 66.8,83.4 63.4,88.5 64.2,97.1 68.5,103.9 71.9,109.0 75.3,120.0 75.3,122.7 106.2,122.7" fill="#fd8d3c"/>
<polygon points="59.9,113.3 68.5,112.5 71.9,122.7 58.2,122.7" fill="#fd8d3c"/>
<polygon points="85.1,50.8 84.8,52.3 83.9,53.3 82.9,53.3 82.0,52.3 81.7,50.8 82.0,49.3 82.9,48.4 83.9,48.4 84.8,49.3" fill="#fd8d3c"/>
<polygon points="95.9,58.5 101.0,61.1 106.2,71.4 99.3,69.7 95.0,64.5" fill="#fd8d3c"/>
</g>
<g clip-path="url(#tB)">
<polygon points="101.3,18.3 209.2,18.3 209.2,122.7 101.3,122.7" fill="#fd8d3c"/>
<polygon points="101.3,45.7 113.3,45.7 113.3,50.0 109.8,59.4 113.3,65.4 120.1,58.5 125.3,52.5 133.8,50.0 142.4,45.7 154.4,47.4 156.1,54.2 152.7,61.1 145.8,64.5 140.7,71.4 137.2,76.5 135.5,85.1 127.0,85.9 125.3,79.9 126.1,71.4 123.5,65.4 118.4,63.7 115.0,66.2 112.4,71.4 109.8,76.5 103.0,79.1 101.3,85.1 101.3,71.4" fill="#fed57c"/>
</g>
<g clip-path="url(#tC)">
<polygon points="-1.7,108.3 106.2,108.3 106.2,212.7 -1.7,212.7" fill="#fd8d3c"/>
<polygon points="39.4,111.7 51.4,108.3 51.4,116.8 47.9,125.4 44.5,118.6" fill="#fed57c"/>
<polygon points="65.9,108.3 73.6,108.3 74.5,120.3 71.9,130.5 66.8,127.1 65.1,116.8" fill="#fed57c"/>
<polygon points="43.2,139.1 42.7,142.1 41.4,144.0 39.8,144.0 38.5,142.1 38.0,139.1 38.5,136.1 39.8,134.2 41.4,134.2 42.7,136.1" fill="#fed57c"/>
<polygon points="43.7,149.4 49.7,144.2 54.8,147.7 56.5,154.5 60.8,156.2 59.1,161.4 53.1,159.7 46.2,161.4 41.1,157.9" fill="#fed57c"/>
<polygon points="22.3,168.2 34.2,164.8 38.5,171.6 42.8,178.5 39.4,180.2 33.4,175.9 28.3,180.2 24.0,175.1" fill="#fed57c"/>
<polygon points="80.0,144.2 79.5,146.1 78.2,147.2 76.6,147.2 75.3,146.1 74.8,144.2 75.3,142.4 76.6,141.3 78.2,141.3 79.5,142.4" fill="#fed57c"/>
<polygon points="64.0,169.9 63.6,171.1 62.6,171.9 61.4,171.9 60.3,171.1 59.9,169.9 60.3,168.7 61.4,168.0 62.6,168.0 63.6,168.7" fill="#fed57c"/>
<polygon points="36.8,198.2 36.5,199.2 35.6,199.8 34.6,199.8 33.7,199.2 33.4,198.2 33.7,197.2 34.6,196.6 35.6,196.6 36.5,197.2" fill="#fed57c"/>
<polygon points="71.9,203.3 71.4,205.8 70.1,207.4 68.6,207.4 67.3,205.8 66.8,203.3 67.3,200.8 68.6,199.3 70.1,199.3 71.4,200.8" fill="#fed57c"/>
</g>
<g clip-path="url(#tD)">
<polygon points="101.3,108.3 209.2,108.3 209.2,212.7 101.3,212.7" fill="#fd8d3c"/>
<polygon points="152.7,137.4 159.5,137.4 161.2,146.8 168.9,146.0 169.8,137.4 174.9,138.3 178.3,144.2 183.5,142.5 188.6,139.1 192.0,140.8 188.6,154.5 182.6,150.2 176.6,154.5 168.1,157.9 159.5,161.4 152.7,166.5 144.1,168.2 136.4,169.1 132.1,163.1 137.2,156.2 144.1,148.5 143.2,143.4 147.5,140.8" fill="#fed57c"/>
<polygon points="115.8,149.4 120.1,145.1 128.7,144.2 137.2,146.8 144.1,148.5 137.2,156.2 130.4,161.4 123.5,161.4 119.3,156.2" fill="#fed57c"/>
<polygon points="108.1,156.2 107.7,157.7 106.7,158.7 105.4,158.7 104.4,157.7 104.0,156.2 104.4,154.7 105.4,153.8 106.7,153.8 107.7,154.7" fill="#fed57c"/>
<polygon points="110.9,146.0 110.7,147.0 110.2,147.6 109.5,147.6 109.0,147.0 108.8,146.0 109.0,145.0 109.5,144.3 110.2,144.3 110.7,145.0" fill="#fed57c"/>
<polygon points="126.1,166.5 130.4,167.4 131.3,175.1 128.7,180.2 126.1,175.1" fill="#fed57c"/>
<polygon points="137.2,185.3 142.4,183.6 147.5,193.9 161.2,205.9 167.2,212.7 137.2,212.7 139.0,199.0 137.2,192.2" fill="#fed57c"/>
</g>
<g clip-path="url(#tE)">
<polygon points="-1.7,168.3 106.2,168.3 106.2,272.7 -1.7,272.7" fill="#fd8d3c"/>
<polygon points="67.6,200.8 71.9,200.0 71.1,206.8 69.3,212.8 68.5,219.7 63.4,224.8 58.2,226.5 56.5,221.4 60.8,214.5 65.1,206.8" fill="#fed57c"/>
<polygon points="86.5,205.1 86.0,207.1 84.7,208.4 83.1,208.4 81.8,207.1 81.3,205.1 81.8,203.1 83.1,201.8 84.7,201.8 86.0,203.1" fill="#fed57c"/>
<polygon points="85.6,214.5 90.8,209.4 94.2,212.8 93.3,221.4 89.0,226.5 84.8,221.4" fill="#fed57c"/>
<polygon points="86.8,233.0 86.1,235.2 84.2,236.6 81.9,236.6 80.0,235.2 79.3,233.0 80.0,230.8 81.9,229.4 84.2,229.4 86.1,230.8" fill="#fed57c"/>
<polygon points="97.6,224.8 106.2,221.4 106.2,241.9 98.5,238.5 95.0,231.6" fill="#fed57c"/>
<polygon points="66.8,230.3 66.5,231.3 65.6,231.9 64.5,231.9 63.7,231.3 63.4,230.3 63.7,229.3 64.5,228.6 65.6,228.6 66.5,229.3" fill="#e31a1c"/>
<polygon points="60.8,244.0 65.9,239.3 72.8,238.5 81.3,241.9 84.8,246.2 75.3,247.4 67.6,245.7" fill="#e31a1c"/>
<polygon points="79.5,244.7 79.1,245.2 78.0,245.5 76.8,245.5 75.7,245.2 75.3,244.7 75.7,244.2 76.8,243.8 78.0,243.8 79.1,244.2" fill="#800026"/>
<polygon points="31.7,176.8 30.4,178.9 26.9,180.1 22.7,180.1 19.3,178.9 18.0,176.8 19.3,174.8 22.7,173.6 26.9,173.6 30.4,174.8" fill="#fed57c"/>
</g>
<g clip-path="url(#tF)">
<polygon points="101.3,168.3 209.2,168.3 209.2,272.7 101.3,272.7" fill="#fd8d3c"/>
<polygon points="137.2,185.4 142.4,183.7 147.5,192.3 154.4,199.1 162.9,207.7 171.5,214.5 171.5,223.1 154.4,229.9 150.9,241.9 154.4,252.2 144.1,252.2 142.4,241.9 144.1,235.1 150.9,228.2 152.7,221.4 154.4,214.5 147.5,212.0 141.5,214.5 138.1,217.9 133.8,219.7 131.3,226.5 126.1,229.1 125.3,219.7 127.0,212.8 133.8,209.4 142.4,206.0 145.8,202.5 142.4,195.7 138.1,194.0" fill="#fed57c"/>
<polygon points="160.0,212.8 159.5,214.0 158.2,214.8 156.7,214.8 155.4,214.0 154.9,212.8 155.4,211.6 156.7,210.9 158.2,210.9 159.5,211.6" fill="#fd8d3c"/>
<polygon points="101.3,245.3 109.8,247.1 116.7,245.3 128.7,242.8 137.2,241.9 142.4,238.5 154.4,241.9 154.4,255.6 101.3,259.0" fill="#fed57c"/>
<polygon points="101.3,224.8 108.1,227.4 111.6,233.4 109.8,240.2 104.7,245.3 101.3,245.3" fill="#fed57c"/>
<polygon points="129.9,173.4 129.5,176.4 128.5,178.3 127.2,178.3 126.2,176.4 125.8,173.4 126.2,170.4 127.2,168.5 128.5,168.5 129.5,170.4" fill="#fed57c"/>
</g>
<g clip-path="url(#tG)">
<polygon points="94.3,58.3 100.0,56.7 104.0,63.3 101.7,69.3 96.0,66.7" fill="#fd8d3c"/>
<polygon points="107.3,62.7 113.3,59.3 117.3,65.0 116.0,73.3 110.0,75.0 106.0,68.3" fill="#fd8d3c"/>
<polygon points="50.0,214.0 55.3,211.7 57.3,223.3 53.3,236.7 48.7,241.7 46.0,231.7" fill="#fed57c"/>
<polygon points="126.0,99.4 129.2,96.8 134.4,96.8 136.4,100.7 139.6,100.7 142.8,105.2 146.1,105.9 150.0,103.3 153.8,105.9 155.8,110.4 153.2,113.7 148.7,114.3 144.1,116.9 140.9,117.5 139.6,121.4 138.0,118.8 138.3,113.7 136.4,109.1 131.8,110.4 127.3,110.4 125.4,105.9" fill="#e31a1c"/>
<polygon points="161.0,101.4 164.8,100.1 168.1,103.3 168.1,109.8 164.8,112.4 161.6,111.1 160.3,105.9" fill="#e31a1c"/>
<polygon points="151.9,129.8 151.3,132.1 149.7,133.5 147.7,133.5 146.0,132.1 145.4,129.8 146.0,127.6 147.7,126.1 149.7,126.1 151.3,127.6" fill="#e31a1c"/>
<polygon points="63.3,174.4 67.2,171.8 72.4,172.5 76.2,173.1 75.6,178.3 73.7,182.8 72.4,179.6 70.4,177.0 69.1,180.9 66.5,186.1 63.9,183.5 62.7,178.3" fill="#e31a1c"/>
<polygon points="84.7,169.9 90.5,166.0 97.0,167.3 102.1,166.7 104.7,170.5 102.1,175.7 98.3,178.9 91.8,178.9 86.6,180.2 84.0,175.7" fill="#e31a1c"/>
<polygon points="104.7,184.8 108.6,179.6 111.8,179.6 114.4,186.1 117.7,190.0 120.0,193.8 119.0,200.3 113.8,203.5 109.9,199.0 107.3,195.1 102.1,196.4 98.3,195.8 97.0,192.5 100.8,189.3" fill="#e31a1c"/>
<polygon points="59.4,196.4 62.7,195.1 64.6,198.4 62.0,202.2 59.4,200.3" fill="#e31a1c"/>
<polygon points="83.8,198.4 83.5,200.0 82.9,201.1 82.1,201.1 81.4,200.0 81.2,198.4 81.4,196.7 82.1,195.7 82.9,195.7 83.5,196.7" fill="#e31a1c"/>
<polygon points="120.6,170.5 120.2,172.2 119.0,173.2 117.6,173.2 116.4,172.2 116.0,170.5 116.4,168.9 117.6,167.8 119.0,167.8 120.2,168.9" fill="#e31a1c"/>
<polygon points="92.5,245.5 102.0,243.5 104.0,252.0 99.0,258.0 94.5,256.5" fill="#fed57c"/>
</g>
</g>
<ellipse cx="115.6" cy="44.4" rx="2.6" ry="1.8" fill="#fed57c"/>
<use href="#ov"/>
<text x="8.6" y="24.7" font-size="6.9" fill="#4d4d4d" textLength="38.5" lengthAdjust="spacing">Fr 20.06.25</text>
</g>
<g transform="translate(0,292)">
<g clip-path="url(#ger)"><rect x="0" y="0" width="206" height="292" fill="#fd8d3c"/>
<g clip-path="url(#tA)">
<polygon points="93.7,56.8 93.3,59.0 92.5,60.4 91.4,60.4 90.6,59.0 90.2,56.8 90.6,54.6 91.4,53.2 92.5,53.2 93.3,54.6" fill="#fed57c"/>
<polygon points="75.9,54.2 75.6,56.8 74.9,58.3 74.1,58.3 73.4,56.8 73.1,54.2 73.4,51.7 74.1,50.2 74.9,50.2 75.6,51.7" fill="#fed57c"/>
<polygon points="70.0,113.3 69.6,115.8 68.6,117.4 67.3,117.4 66.3,115.8 65.9,113.3 66.3,110.8 67.3,109.3 68.6,109.3 69.6,110.8" fill="#fed57c"/>
<polygon points="94.2,85.1 99.3,88.5 101.9,97.1 98.5,105.6 92.5,107.3 88.2,100.5 89.9,91.9" fill="#e31a1c"/>
<polygon points="97.3,99.1 96.8,100.3 95.5,101.1 93.9,101.1 92.6,100.3 92.1,99.1 92.6,97.9 93.9,97.2 95.5,97.2 96.8,97.9" fill="#800026"/>
</g>
<g clip-path="url(#tB)">
<polygon points="128.7,54.2 135.5,52.5 142.4,51.7 143.2,56.8 139.8,62.8 139.0,69.7 135.5,73.1 129.5,72.2 127.8,68.8 133.0,64.5 133.8,59.4" fill="#fed57c"/>
<polygon points="109.8,61.1 119.3,57.7 117.6,62.0 111.6,63.7" fill="#fed57c"/>
<polygon points="159.5,67.9 158.8,73.0 156.9,76.1 154.6,76.1 152.7,73.0 152.0,67.9 152.7,62.9 154.6,59.8 156.9,59.8 158.8,62.9" fill="#e31a1c"/>
</g>
<g clip-path="url(#tC)">
<polygon points="35.8,193.9 35.4,196.4 34.4,198.0 33.1,198.0 32.1,196.4 31.7,193.9 32.1,191.4 33.1,189.8 34.4,189.8 35.4,191.4" fill="#e31a1c"/>
<polygon points="69.7,113.4 69.4,115.9 68.5,117.5 67.5,117.5 66.6,115.9 66.3,113.4 66.6,110.9 67.5,109.4 68.5,109.4 69.4,110.9" fill="#fed57c"/>
</g>
<g clip-path="url(#tE)">
<polygon points="71.9,217.9 77.1,213.7 79.6,216.2 76.2,223.1 73.6,226.5 70.2,224.8" fill="#e31a1c"/>
<polygon points="64.2,227.4 67.6,228.2 70.2,235.1 75.3,240.2 80.5,242.8 82.2,245.3 75.3,245.3 70.2,241.9 66.8,236.8 64.2,231.6" fill="#e31a1c"/>
<polygon points="88.2,240.2 87.6,242.0 86.1,243.1 84.2,243.1 82.6,242.0 82.0,240.2 82.6,238.4 84.2,237.3 86.1,237.3 87.6,238.4" fill="#e31a1c"/>
<polygon points="35.8,194.0 35.4,196.5 34.4,198.0 33.1,198.0 32.1,196.5 31.7,194.0 32.1,191.5 33.1,189.9 34.4,189.9 35.4,191.5" fill="#e31a1c"/>
<polygon points="106.2,230.8 105.3,234.8 103.2,237.3 100.6,237.3 98.4,234.8 97.6,230.8 98.4,226.8 100.6,224.3 103.2,224.3 105.3,226.8" fill="#fed57c"/>
</g>
<g clip-path="url(#tF)">
<polygon points="139.0,234.2 138.6,237.7 137.8,239.9 136.7,239.9 135.9,237.7 135.5,234.2 135.9,230.7 136.7,228.5 137.8,228.5 138.6,230.7" fill="#e31a1c"/>
<polygon points="138.1,208.5 147.5,204.2 154.4,209.4 149.2,215.4 142.4,213.7" fill="#fed57c"/>
<polygon points="127.0,222.2 132.1,221.4 131.3,226.5 126.1,229.1" fill="#fed57c"/>
<polygon points="101.3,226.5 104.7,228.2 106.4,235.1 111.6,236.8 103.0,241.9 101.3,241.9" fill="#fed57c"/>
<polygon points="143.2,238.5 149.2,235.9 152.7,241.9 154.4,250.5 147.5,247.1 141.5,243.6" fill="#fed57c"/>
<polygon points="115.0,247.9 120.1,246.2 123.5,248.8 116.7,251.3" fill="#fed57c"/>
</g>
<g clip-path="url(#tG)">
<polygon points="88.3,91.7 95.0,83.3 103.3,88.3 109.3,95.0 107.3,107.3 96.7,109.3 89.3,101.7" fill="#e31a1c"/>
<polygon points="97.7,99.3 97.1,100.5 95.6,101.2 93.7,101.2 92.2,100.5 91.7,99.3 92.2,98.2 93.7,97.4 95.6,97.4 97.1,98.2" fill="#800026"/>
<polygon points="173.3,70.0 180.0,73.3 182.7,88.3 173.3,88.3 169.3,79.3" fill="#e31a1c"/>
<polygon points="110.8,84.6 115.9,80.2 121.0,78.0 124.7,82.4 129.0,84.6 134.1,86.0 137.8,81.6 142.9,80.9 147.2,83.8 150.9,88.9 153.1,96.2 153.8,101.3 156.7,98.4 160.3,94.8 161.1,88.9 165.4,83.8 170.5,82.4 174.9,77.3 177.8,75.8 179.3,80.9 177.1,86.0 174.9,91.8 176.1,96.9 177.5,102.8 180.4,109.0 184.4,113.7 186.5,118.8 185.8,125.3 182.9,129.7 176.4,131.9 169.1,134.1 163.2,134.8 158.9,132.6 155.2,128.2 153.1,131.2 148.7,134.1 141.4,134.1 134.1,132.6 130.5,128.2 129.0,122.4 130.5,116.6 129.8,112.2 126.8,108.6 121.0,107.1 115.9,106.4 112.3,102.8 110.8,97.7 107.9,93.3 105.0,94.0 103.5,103.5 103.5,91.8 107.9,90.4 110.8,88.2" fill="#e31a1c"/>
<polygon points="153.8,101.3 156.7,98.4 160.3,97.7 164.0,101.3 163.2,106.4 158.2,107.1 154.5,104.9" fill="#fd8d3c"/>
<polygon points="107.2,121.7 112.3,119.5 118.1,119.5 117.4,123.2 113.0,125.3 107.9,124.6" fill="#e31a1c"/>
<polygon points="60.4,173.2 66.2,171.7 72.0,172.5 76.4,173.2 82.2,171.0 86.6,168.1 91.0,163.7 96.1,160.8 100.4,163.0 104.1,166.6 108.4,168.8 112.8,166.6 117.2,165.2 119.4,161.6 121.5,166.6 124.5,173.9 125.2,181.2 123.0,188.5 120.8,194.3 122.3,201.6 121.5,207.4 117.2,208.9 113.5,206.0 111.4,211.8 108.4,216.2 104.8,214.7 104.1,207.4 101.2,200.1 97.5,197.2 95.3,192.9 94.6,198.7 93.2,204.5 89.5,205.2 88.8,198.7 90.2,192.9 88.1,188.5 83.7,184.9 79.3,185.6 74.9,183.4 72.8,186.3 69.9,189.9 67.7,187.8 64.0,186.3 61.8,191.4 64.8,195.0 63.3,203.1 61.8,208.9 58.9,211.1 57.5,204.5 56.7,197.2 57.5,189.9 60.4,186.3 61.8,180.5" fill="#e31a1c"/>
<polygon points="100.4,176.8 104.1,173.2 109.9,171.7 115.7,173.2 117.9,176.8 114.3,179.0 109.9,179.8 105.5,181.9 102.6,186.3 99.0,185.6 99.0,181.2" fill="#fd8d3c"/>
<polygon points="73.2,165.5 72.7,166.2 71.4,166.6 69.8,166.6 68.5,166.2 68.0,165.5 68.5,164.8 69.8,164.4 71.4,164.4 72.7,164.8" fill="#e31a1c"/>
<polygon points="84.0,198.7 83.7,200.6 83.0,201.7 82.1,201.7 81.3,200.6 81.1,198.7 81.3,196.8 82.1,195.6 83.0,195.6 83.7,196.8" fill="#e31a1c"/>
<polygon points="71.3,219.1 75.7,214.7 78.6,216.2 76.4,222.0 72.8,225.0 69.9,223.4" fill="#e31a1c"/>
<polygon points="129.1,192.1 128.8,194.0 128.1,195.2 127.2,195.2 126.5,194.0 126.2,192.1 126.5,190.3 127.2,189.1 128.1,189.1 128.8,190.3" fill="#e31a1c"/>
<polygon points="50.9,217.6 54.6,213.2 56.0,216.2 53.1,220.5 50.9,221.3" fill="#e31a1c"/>
<polygon points="145.9,140.1 149.8,138.8 152.4,142.0 156.2,143.3 158.8,145.9 155.0,147.8 151.1,148.5 147.8,147.8 146.5,144.6" fill="#fed57c"/>
<polygon points="123.9,146.5 129.1,144.6 135.5,145.9 140.7,147.2 143.9,149.8 139.4,153.0 135.5,156.2 131.0,156.2 126.5,153.7 123.9,150.4" fill="#fed57c"/>
<polygon points="136.8,158.8 140.7,155.0 145.9,151.7 149.8,152.4 154.3,150.4 158.8,149.1 164.0,147.8 167.2,149.1 162.7,152.4 157.5,155.6 152.4,158.8 145.9,162.7 139.4,166.0 135.5,164.7" fill="#fed57c"/>
<polygon points="184.1,143.3 186.7,142.7 187.3,148.5 184.7,150.4" fill="#fed57c"/>
<polygon points="15.4,122.6 21.9,124.1 28.5,127.3 31.4,137.7 33.2,147.1 33.2,155.6 28.5,158.4 23.8,154.6 21.0,145.2 19.1,137.7 18.2,145.2 16.3,150.5 12.9,148.0 13.5,140.5 16.7,138.6 18.2,133.9 15.9,129.2" fill="#e31a1c"/>
<polygon points="63.4,148.0 68.1,146.7 70.3,154.6 67.5,162.5 62.6,163.7 61.5,156.1" fill="#e31a1c"/>
</g>
</g>
<ellipse cx="115.6" cy="44.4" rx="2.6" ry="1.8" fill="#fed57c"/>
<use href="#ov"/>
<text x="8.6" y="24.7" font-size="6.9" fill="#4d4d4d" textLength="38.5" lengthAdjust="spacing">Sa 21.06.25</text>
</g>
<g transform="translate(206,292)">
<g clip-path="url(#ger)"><rect x="0" y="0" width="206" height="292" fill="#e31a1c"/>
<g clip-path="url(#tA)">
<polygon points="58.2,26.8 106.2,26.8 106.2,59.4 101.0,62.8 93.3,67.1 89.0,71.4 85.6,71.4 80.5,68.3 73.6,64.5 68.5,62.0 58.2,71.4" fill="#fd8d3c"/>
<polygon points="35.1,71.4 41.1,70.5 42.0,76.5 38.5,85.1 36.8,78.2" fill="#fd8d3c"/>
<polygon points="54.8,76.5 64.2,71.4 65.1,81.6 63.4,91.9 65.9,102.2 70.2,109.0 75.3,122.7 59.9,122.7 60.8,112.5 55.7,109.0 54.8,100.5 55.7,88.5" fill="#fd8d3c"/>
<polygon points="41.1,109.0 48.8,105.6 51.4,112.5 51.4,122.7 39.4,122.7" fill="#fd8d3c"/>
<polygon points="73.6,91.9 78.8,90.2 81.3,95.3 78.8,102.2 75.3,104.8 72.8,98.8" fill="#800026"/>
<polygon points="93.3,85.1 97.6,85.9 100.2,91.9 99.3,100.5 94.2,103.9 89.9,100.5 89.0,93.6" fill="#800026"/>
</g>
<g clip-path="url(#tB)">
<polygon points="101.3,44.0 116.7,44.0 115.0,52.5 110.7,57.7 108.1,62.8 101.3,60.2" fill="#fd8d3c"/>
<polygon points="120.1,60.2 125.3,52.5 133.8,49.1 142.4,44.0 152.7,45.7 157.8,54.2 150.9,57.7 146.7,62.8 143.2,69.7 135.5,73.1 130.4,71.4 128.7,66.2 123.5,62.8" fill="#fd8d3c"/>
<polygon points="161.2,54.2 168.1,56.0 176.6,62.8 171.5,69.7 166.4,71.4 163.8,62.8" fill="#fd8d3c"/>
</g>
<g clip-path="url(#tC)">
<polygon points="37.7,116.8 44.5,110.0 58.2,110.0 56.5,120.3 53.1,127.1 46.2,128.8 41.1,123.7" fill="#fd8d3c"/>
<polygon points="64.2,108.3 73.6,108.3 75.3,120.3 73.6,128.8 68.5,134.0 65.1,127.1 63.4,116.8" fill="#fd8d3c"/>
<polygon points="38.5,135.7 42.0,134.0 46.2,142.5 48.8,149.4 44.5,151.1 40.2,146.0 37.7,140.8" fill="#fd8d3c"/>
<polygon points="54.8,139.1 59.1,134.0 65.1,135.7 66.8,140.8 63.4,146.0 58.2,149.4 53.1,151.1 51.4,144.2" fill="#fd8d3c"/>
<polygon points="70.2,139.1 75.3,137.4 77.1,144.2 73.6,151.1 69.3,146.0" fill="#fd8d3c"/>
<polygon points="81.0,161.0 80.4,162.7 78.9,163.8 77.0,163.8 75.4,162.7 74.8,161.0 75.4,159.3 77.0,158.3 78.9,158.3 80.4,159.3" fill="#fd8d3c"/>
<polygon points="36.8,154.5 47.9,151.1 54.8,152.8 56.5,159.7 61.6,156.2 63.4,161.4 58.2,168.2 51.4,171.6 49.7,164.8 42.8,161.4 36.0,158.8" fill="#fd8d3c"/>
<polygon points="18.8,169.9 24.0,166.5 34.2,167.4 39.4,171.6 42.0,178.5 38.5,183.6 33.4,187.1 29.1,181.9 25.7,176.8 20.5,175.9" fill="#fd8d3c"/>
<polygon points="43.7,190.5 51.4,189.6 53.1,195.6 50.5,202.5 44.5,202.5 41.1,197.3" fill="#fd8d3c"/>
<polygon points="35.1,193.9 38.5,192.2 41.1,199.0 36.8,202.5 34.2,199.0" fill="#fd8d3c"/>
<polygon points="47.9,176.8 53.1,175.1 55.7,181.9 51.4,187.1 47.9,183.6" fill="#fd8d3c"/>
<polygon points="83.9,128.8 92.5,127.1 95.9,132.3 90.8,137.4 85.6,135.7" fill="#fd8d3c"/>
<polygon points="85.6,138.3 90.8,139.1 89.9,146.8 86.5,144.2" fill="#fd8d3c"/>
<polygon points="72.4,205.0 71.8,207.9 70.3,209.6 68.4,209.6 66.9,207.9 66.3,205.0 66.9,202.2 68.4,200.5 70.3,200.5 71.8,202.2" fill="#fd8d3c"/>
<polygon points="105.3,124.6 104.5,127.1 102.4,128.6 99.7,128.6 97.6,127.1 96.7,124.6 97.6,122.0 99.7,120.5 102.4,120.5 104.5,122.0" fill="#fd8d3c"/>
<polygon points="64.2,169.9 63.9,170.9 63.0,171.6 62.0,171.6 61.1,170.9 60.8,169.9 61.1,168.9 62.0,168.3 63.0,168.3 63.9,168.9" fill="#fd8d3c"/>
<polygon points="63.4,173.4 67.6,172.5 68.5,180.2 65.9,183.6 63.4,180.2" fill="#800026"/>
<polygon points="71.1,172.5 75.3,172.5 75.3,178.5 72.8,183.6 71.1,178.5" fill="#800026"/>
<polygon points="99.1,180.2 98.8,183.7 97.7,185.9 96.5,185.9 95.4,183.7 95.0,180.2 95.4,176.7 96.5,174.5 97.7,174.5 98.8,176.7" fill="#800026"/>
</g>
<g clip-path="url(#tD)">
<polygon points="114.6,189.6 114.1,193.1 112.5,195.3 110.6,195.3 109.1,193.1 108.5,189.6 109.1,186.1 110.6,183.9 112.5,183.9 114.1,186.1" fill="#800026"/>
<polygon points="144.1,141.7 152.7,140.0 157.8,135.7 162.1,138.3 161.2,146.8 166.4,148.5 171.5,144.2 176.6,142.5 183.5,139.1 186.9,134.0 193.8,135.7 193.8,144.2 188.6,154.5 182.6,150.2 176.6,154.5 168.1,157.9 159.5,161.4 152.7,166.5 144.1,168.2 136.4,169.1 131.3,163.1 137.2,156.2 144.1,148.5" fill="#fd8d3c"/>
<polygon points="115.8,149.4 121.8,143.4 127.0,140.0 132.1,140.8 137.2,146.8 144.1,148.5 137.2,156.2 130.4,161.4 123.5,161.4 119.3,156.2" fill="#fd8d3c"/>
<polygon points="110.9,146.0 110.6,147.2 109.9,147.9 109.1,147.9 108.4,147.2 108.1,146.0 108.4,144.8 109.1,144.0 109.9,144.0 110.6,144.8" fill="#fd8d3c"/>
<polygon points="103.0,152.8 106.4,152.0 109.8,157.9 108.1,163.1 103.0,161.4" fill="#fd8d3c"/>
<polygon points="106.4,173.4 113.3,170.8 119.3,175.9 115.0,181.1 108.1,178.5" fill="#fd8d3c"/>
<polygon points="130.4,175.9 129.9,178.1 128.6,179.5 127.0,179.5 125.8,178.1 125.3,175.9 125.8,173.7 127.0,172.3 128.6,172.3 129.9,173.7" fill="#fd8d3c"/>
<polygon points="137.2,185.3 141.5,183.6 148.4,193.9 157.8,204.2 167.2,212.7 137.2,212.7 135.5,202.5 139.0,193.9" fill="#fd8d3c"/>
</g>
<g clip-path="url(#tE)">
<polygon points="43.7,190.5 51.4,189.7 53.1,195.7 50.5,202.5 44.5,202.5 41.1,197.4" fill="#fd8d3c"/>
<polygon points="35.1,194.0 38.5,192.3 41.1,199.1 36.8,202.5 34.2,199.1" fill="#fd8d3c"/>
<polygon points="65.9,201.7 71.1,200.0 76.2,203.4 75.3,209.4 70.2,212.8 65.1,210.2" fill="#fd8d3c"/>
<polygon points="60.3,227.4 59.9,229.4 58.9,230.6 57.6,230.6 56.6,229.4 56.2,227.4 56.6,225.4 57.6,224.1 58.9,224.1 59.9,225.4" fill="#fd8d3c"/>
<polygon points="75.3,226.5 82.2,226.5 85.6,221.4 89.0,217.9 95.0,221.4 95.9,229.9 94.2,238.5 89.0,238.5 83.9,240.2 80.5,245.3 75.3,241.9 73.6,233.4" fill="#fd8d3c"/>
<polygon points="95.9,209.4 106.2,204.2 106.2,245.3 99.3,241.9 95.9,229.9 95.0,221.4" fill="#fd8d3c"/>
<polygon points="53.1,241.1 56.5,240.2 58.2,245.3 53.1,247.1" fill="#fd8d3c"/>
<polygon points="46.2,236.8 49.7,233.4 51.4,240.2 47.9,245.3" fill="#fd8d3c"/>
<polygon points="83.9,245.3 95.9,245.3 106.2,250.5 106.2,259.0 95.9,255.6 87.3,250.5" fill="#fd8d3c"/>
<polygon points="65.9,239.3 70.2,238.5 73.6,243.6 68.5,245.3" fill="#800026"/>
</g>
<g clip-path="url(#tF)">
<polygon points="137.2,185.4 142.4,183.7 147.5,192.3 154.4,199.1 171.5,207.7 171.5,223.1 154.4,229.9 150.9,241.9 154.4,255.6 101.3,259.0 101.3,227.4 107.3,226.2 111.6,221.4 113.3,216.2 118.4,211.1 123.5,208.5 132.1,210.2 139.8,208.5 147.5,204.2 148.4,200.8 143.2,198.3 139.0,199.1 137.2,194.0" fill="#fd8d3c"/>
<polygon points="124.4,216.2 123.9,218.0 122.6,219.2 121.0,219.2 119.8,218.0 119.3,216.2 119.8,214.4 121.0,213.3 122.6,213.3 123.9,214.4" fill="#e31a1c"/>
<polygon points="115.0,233.4 121.8,229.1 130.4,228.2 137.2,227.4 139.8,233.4 142.4,238.5 139.0,243.6 130.4,245.3 121.8,247.1 114.1,245.3 113.3,238.5" fill="#e31a1c"/>
<polygon points="106.4,175.1 113.3,172.6 118.4,176.0 115.8,180.3 109.8,179.4" fill="#fd8d3c"/>
<polygon points="129.9,176.0 129.5,178.0 128.5,179.3 127.2,179.3 126.2,178.0 125.8,176.0 126.2,174.0 127.2,172.7 128.5,172.7 129.5,174.0" fill="#fd8d3c"/>
<polygon points="114.1,190.5 113.6,193.6 112.4,195.4 110.8,195.4 109.5,193.6 109.0,190.5 109.5,187.5 110.8,185.7 112.4,185.7 113.6,187.5" fill="#800026"/>
</g>
<g clip-path="url(#tG)">
<polygon points="112.9,70.2 117.3,66.6 123.1,68.7 124.6,74.6 123.8,80.4 128.9,83.3 136.2,81.8 143.5,81.1 147.9,84.8 150.0,90.6 147.1,94.9 143.5,96.4 142.8,102.2 146.4,105.1 152.2,105.1 155.1,109.5 156.6,118.2 156.6,125.5 153.7,129.9 146.4,131.4 139.1,132.8 133.3,131.4 134.8,124.1 131.8,118.2 127.5,113.9 124.6,109.5 118.7,108.1 114.4,102.2 115.1,93.5 117.3,87.7 115.8,81.8 112.9,76.0" fill="#800026"/>
<polygon points="167.5,83.3 172.6,78.9 178.4,76.7 179.9,84.8 175.5,93.5 179.9,97.9 184.3,103.7 186.5,115.3 187.2,125.5 184.3,132.8 174.1,132.8 172.6,125.5 175.5,118.2 172.6,111.0 168.2,108.1 164.6,106.6 161.7,102.2 159.5,97.9 163.9,96.4 168.2,100.8 171.2,97.9 169.7,92.0 166.1,88.4" fill="#800026"/>
<polygon points="159.1,69.5 158.5,73.3 156.9,75.7 154.9,75.7 153.3,73.3 152.7,69.5 153.3,65.6 154.9,63.2 156.9,63.2 158.5,65.6" fill="#800026"/>
<polygon points="49.3,216.7 55.0,213.3 57.3,225.0 54.0,236.7 56.7,245.0 50.0,247.3 46.0,236.7" fill="#fd8d3c"/>
</g>
</g>
<ellipse cx="115.6" cy="44.4" rx="2.6" ry="1.8" fill="#fd8d3c"/>
<use href="#ov"/>
<text x="8.6" y="24.7" font-size="6.9" fill="#4d4d4d" textLength="38.5" lengthAdjust="spacing">So 22.06.25</text>
</g>
</svg></body></html>
